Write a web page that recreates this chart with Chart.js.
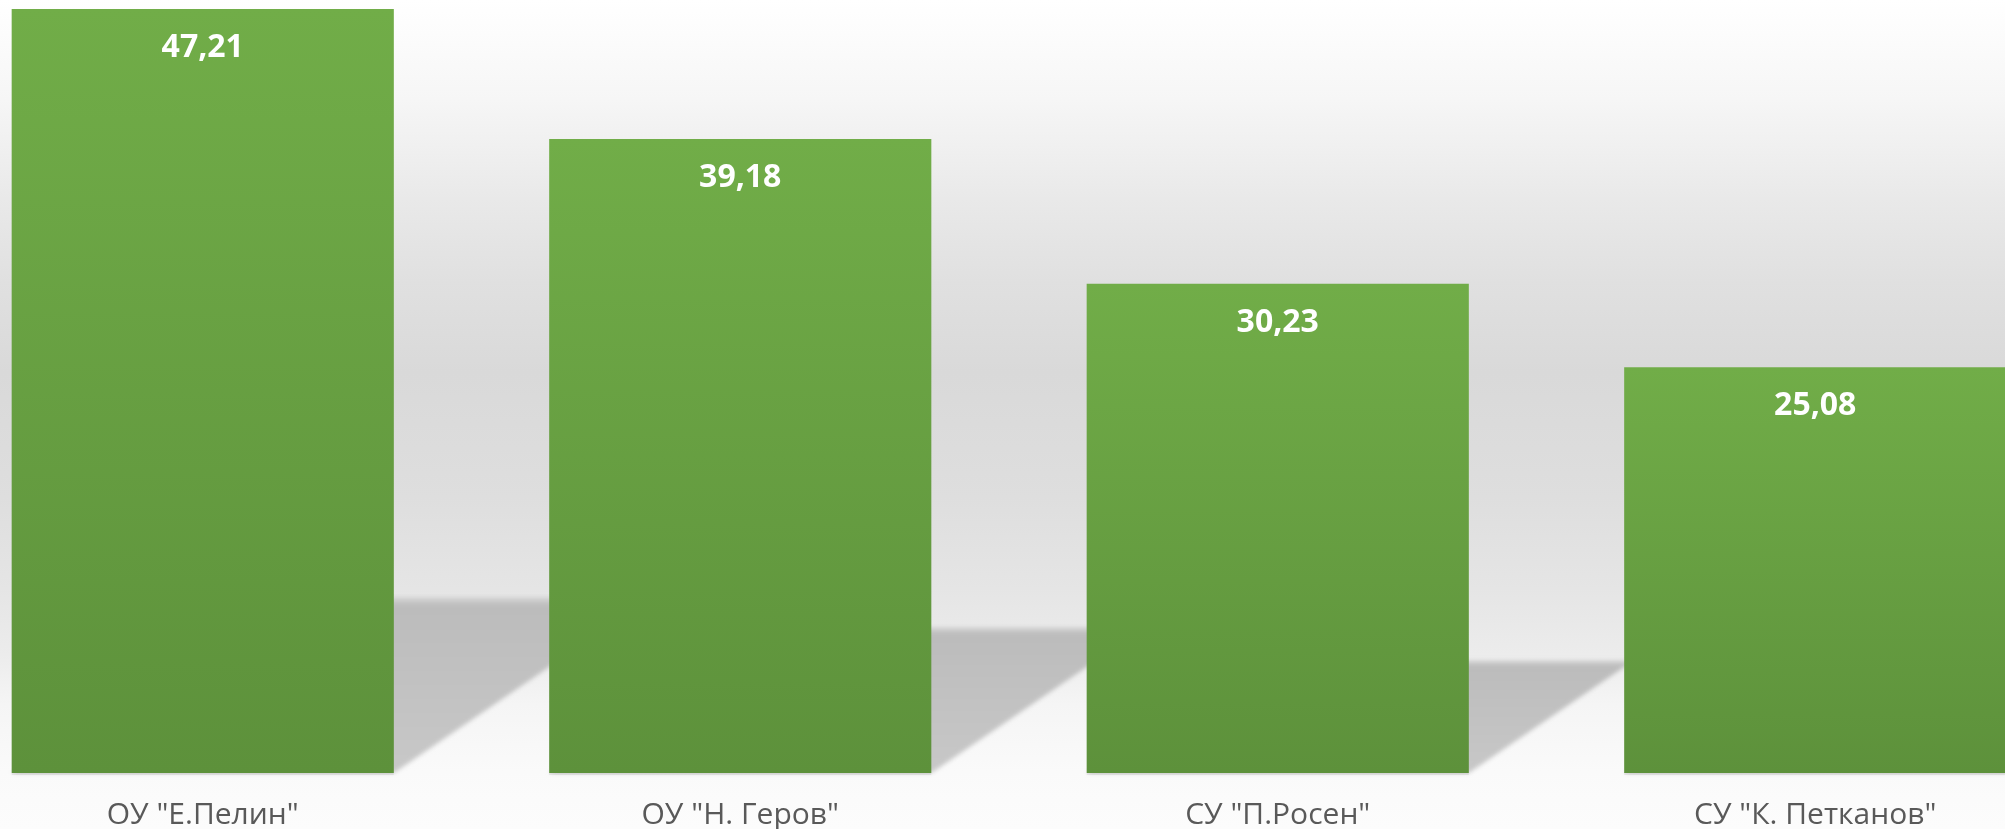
<!DOCTYPE html>
<html>
<head>
<meta charset="utf-8">
<script src="https://cdn.jsdelivr.net/npm/chart.js@4/dist/chart.umd.min.js"></script>
<style>
  html, body { margin: 0; padding: 0; width: 2005px; height: 829px; overflow: hidden }
  body {
    position: relative;
    background: linear-gradient(to bottom,
      #ffffff 0%, #f6f6f6 12%, #e9e9e9 24%, #e0e0e0 34%, #d9d9d9 45%,
      #dedede 60%, #e5e5e5 71%, #ececec 79%, #f5f5f5 85%, #fafafa 93%, #fcfcfc 100%);
  }
  #wrap { position: absolute; left: -66px; top: 0; width: 2150px; height: 829px }
</style>
</head>
<body>
<div id="wrap"><canvas id="chart"></canvas></div>
<script>
const schools = ['ОУ "Е.Пелин"', 'ОУ "Н. Геров"', 'СУ "П.Росен"', 'СУ "К. Петканов"']
const scores = [47.21, 39.18, 30.23, 25.08]

const FONT = '"Open Sans", "Noto Sans", sans-serif'

// per-bar vertical gradient (Excel style)
function barFill(ctx) {
  const chart = ctx.chart
  const y = chart.scales.y
  if (!chart.chartArea || !y || ctx.parsed == null) return '#67a042'
  const top = y.getPixelForValue(ctx.parsed.y)
  const base = y.getPixelForValue(0)
  if (!isFinite(top) || !isFinite(base) || base <= top) return '#67a042'
  const g = chart.ctx.createLinearGradient(0, top, 0, base)
  g.addColorStop(0, '#71AD48')
  g.addColorStop(1, '#5D913B')
  return g
}

// cast shadows on the floor, behind bars
const shadowPlugin = {
  id: 'shadows',
  beforeDatasetsDraw(chart) {
    const c = chart.ctx
    const meta = chart.getDatasetMeta(0)
    c.save()
    meta.data.forEach(bar => {
      const L = bar.x - bar.width / 2, R = bar.x + bar.width / 2
      const B = bar.base, h = bar.base - bar.y
      const dx = h * 0.337, dy = h * 0.23
      const g = c.createLinearGradient(0, B - dy, 0, B)
      g.addColorStop(0, '#d4d4d4')
      g.addColorStop(0.05, '#bcbcbc')
      g.addColorStop(1, '#c8c8c8')
      c.filter = 'blur(2px)'
      c.fillStyle = g
      c.beginPath()
      c.moveTo(L, B)
      c.lineTo(R, B)
      c.lineTo(R + dx, B - dy)
      c.lineTo(L + dx, B - dy)
      c.closePath()
      c.fill()
      c.filter = 'none'
      // thin edge under the bar
      c.fillStyle = 'rgba(0,0,0,0.07)'
      c.fillRect(L, B, R - L, 2)
    })
    c.restore()
  }
}

// value labels inside the top of each bar
const valueLabels = {
  id: 'valueLabels',
  afterDatasetsDraw(chart) {
    const c = chart.ctx
    const meta = chart.getDatasetMeta(0)
    c.save()
    c.font = 'bold 32px ' + FONT
    c.fillStyle = '#ffffff'
    c.textAlign = 'center'
    c.textBaseline = 'middle'
    meta.data.forEach((bar, i) => {
      c.fillText(scores[i].toFixed(2).replace('.', ','), bar.x, bar.y + 39)
    })
    c.restore()
  }
}

new Chart(document.getElementById('chart'), {
  type: 'bar',
  data: {
    labels: schools,
    datasets: [{
      data: scores,
      backgroundColor: barFill,
      borderWidth: 0,
      categoryPercentage: 1,
      barPercentage: 0.711
    }]
  },
  options: {
    responsive: true, maintainAspectRatio: false, animation: false,
    layout: { padding: { top: 9, bottom: 0, left: 0, right: 0 } },
    plugins: { legend: { display: false }, tooltip: { enabled: false } },
    scales: {
      x: {
        grid: { display: false, drawTicks: false },
        border: { display: false },
        ticks: { color: '#595959', font: { family: FONT, size: 30 }, padding: 24, maxRotation: 0, autoSkip: false },
        afterFit: s => { s.height = 56 }
      },
      y: { display: false, min: 0, max: 47.21 }
    }
  },
  plugins: [shadowPlugin, valueLabels]
})
</script>
</body>
</html>
